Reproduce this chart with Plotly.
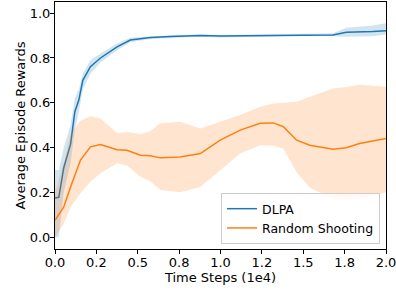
import plotly.graph_objects as go

# DLPA
dlpa_x = [0, 0.023, 0.053, 0.094, 0.12, 0.144, 0.168, 0.214, 0.275, 0.375, 0.455, 0.576, 0.7, 0.88, 1.0, 1.2, 1.4, 1.6, 1.68, 1.76, 1.85, 1.92, 2.0]
dlpa_mean = [0.175, 0.178, 0.31, 0.415, 0.56, 0.612, 0.70, 0.761, 0.80, 0.85, 0.88, 0.891, 0.896, 0.900, 0.898, 0.900, 0.902, 0.903, 0.903, 0.915, 0.915, 0.918, 0.922]
dlpa_upper = [0.30, 0.30, 0.40, 0.50, 0.62, 0.66, 0.73, 0.79, 0.82, 0.865, 0.89, 0.897, 0.902, 0.905, 0.903, 0.905, 0.906, 0.907, 0.91, 0.935, 0.94, 0.945, 0.955]
dlpa_lower = [0.0, 0.0, 0.20, 0.33, 0.48, 0.56, 0.66, 0.73, 0.78, 0.835, 0.87, 0.885, 0.89, 0.895, 0.892, 0.895, 0.898, 0.899, 0.897, 0.895, 0.895, 0.897, 0.905]

# Random Shooting
rs_x = [0, 0.053, 0.094, 0.154, 0.214, 0.275, 0.375, 0.435, 0.516, 0.576, 0.636, 0.757, 0.878, 0.998, 1.119, 1.24, 1.32, 1.38, 1.46, 1.54, 1.68, 1.76, 1.84, 2.0]
rs_mean = [0.075, 0.135, 0.224, 0.344, 0.403, 0.414, 0.39, 0.388, 0.366, 0.363, 0.354, 0.358, 0.373, 0.433, 0.478, 0.508, 0.51, 0.493, 0.433, 0.41, 0.393, 0.399, 0.418, 0.44]
rs_upper = [0.2, 0.33, 0.46, 0.52, 0.54, 0.53, 0.465, 0.47, 0.46, 0.473, 0.508, 0.515, 0.485, 0.515, 0.545, 0.582, 0.597, 0.60, 0.605, 0.627, 0.664, 0.67, 0.68, 0.672]
rs_lower = [0.0, 0.06, 0.135, 0.196, 0.247, 0.285, 0.33, 0.32, 0.27, 0.25, 0.21, 0.2, 0.224, 0.3, 0.373, 0.41, 0.408, 0.395, 0.29, 0.22, 0.172, 0.165, 0.17, 0.2]

x_tickvals = [0, 0.25, 0.5, 0.75, 1.0, 1.25, 1.5, 1.75, 2.0]
x_ticktext = ["0.0", "0.2", "0.5", "0.8", "1.0", "1.2", "1.5", "1.8", "2.0"]
y_tickvals = [0.0, 0.2, 0.4, 0.6, 0.8, 1.0]
y_ticktext = ["0.0", "0.2", "0.4", "0.6", "0.8", "1.0"]

BLUE = "#1f77b4"
ORANGE = "#ff7f0e"

fig = go.Figure()
fig.add_trace(go.Scatter(x=dlpa_x + dlpa_x[::-1], y=dlpa_upper + dlpa_lower[::-1],
                         fill="toself", fillcolor="rgba(31,119,180,0.2)", line=dict(width=0),
                         mode="lines", showlegend=False, hoverinfo="skip"))
fig.add_trace(go.Scatter(x=dlpa_x, y=dlpa_mean, mode="lines", name="DLPA",
                         line=dict(color=BLUE, width=1.5)))
fig.add_trace(go.Scatter(x=rs_x + rs_x[::-1], y=rs_upper + rs_lower[::-1],
                         fill="toself", fillcolor="rgba(255,127,14,0.2)", line=dict(width=0),
                         mode="lines", showlegend=False, hoverinfo="skip"))
fig.add_trace(go.Scatter(x=rs_x, y=rs_mean, mode="lines", name="Random Shooting",
                         line=dict(color=ORANGE, width=1.5)))

font = dict(family="DejaVu Sans", size=13, color="black")
fig.update_layout(
    width=396, height=293,
    margin=dict(l=55, r=10, t=2, b=44, autoexpand=False),
    paper_bgcolor="white", plot_bgcolor="white",
    font=font,
    legend=dict(x=0.982, y=0.02, xanchor="right", yanchor="bottom",
                bgcolor="rgba(255,255,255,0.8)", bordercolor="#cccccc", borderwidth=1,
                font=dict(family="DejaVu Sans", size=12.5, color="black"),
                itemwidth=30, tracegroupgap=0),
    showlegend=True,
)
fig.update_xaxes(range=[0, 2.0], tickvals=x_tickvals, ticktext=x_ticktext, automargin=False,
                 ticklabeloverflow="allow", ticklabelstandoff=-3,
                 showgrid=False, zeroline=False, showline=True, linecolor="black", linewidth=1,
                 mirror=True, ticks="outside", ticklen=4, tickcolor="black",
                 tickfont=font,
                 title=dict(text="Time Steps (1e4)", font=font, standoff=0))
fig.update_yaxes(range=[-0.053, 1.05], tickvals=y_tickvals, ticktext=y_ticktext, automargin=False,
                 ticklabeloverflow="allow", ticklabelstandoff=-3,
                 showgrid=False, zeroline=False, showline=True, linecolor="black", linewidth=1,
                 mirror=True, ticks="outside", ticklen=4, tickcolor="black",
                 tickfont=font,
                 title=dict(text="Average Episode Rewards", font=font, standoff=1))

fig.write_html("out.html", config={"displayModeBar": False},
               post_script="document.body.style.margin='0';document.body.style.overflow='hidden';")
